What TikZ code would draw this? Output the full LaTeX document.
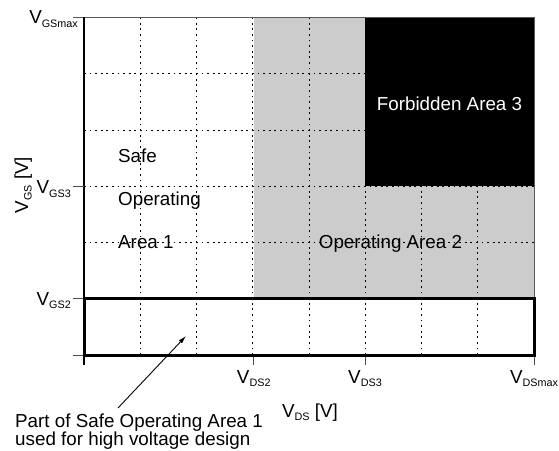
\documentclass[tikz,border=0pt]{standalone}
\usepackage{fontspec}
\setmainfont{Liberation Sans}
\usetikzlibrary{arrows.meta}
\newcommand{\volt}[1]{V\raisebox{-3.5pt}{\fontsize{10.8}{11}\selectfont #1}}

\begin{document}
\begin{tikzpicture}[x=1pt,y=1pt,
  gridline/.style={line width=0.9pt, dash pattern=on 1.8pt off 3.8pt},
  txt/.style={font=\fontsize{18.8}{16}\selectfont, inner sep=0pt},
  tickmark/.style={line width=1pt, gray!60!black}]
\useasboundingbox (0,0) rectangle (559,450);
% operating area 2
\fill[gray!40] (253.75,151.25) rectangle (534,432.5);
% dotted grid
\foreach \i in {1,...,7}
  \draw[gridline] (84+56.25*\i,95) -- (84+56.25*\i,432.5);
\foreach \j in {2,...,5}
  \draw[gridline] (84,95+56.25*\j) -- (534,95+56.25*\j);
% forbidden area 3
\fill[black] (365,263.75) rectangle (534,432.5);
% frame and ticks
\draw[line width=0.8pt, gray!70!black] (73,432.5) -- (534,432.5) -- (534,95);
\draw[line width=1.2pt] (84,432.5) -- (84,85);
\draw[tickmark] (73,263.75) -- (84,263.75);
\draw[tickmark] (73,151.25) -- (84,151.25);
\draw[tickmark] (73,95) -- (84,95);
\draw[tickmark] (253.75,95) -- (253.75,85);
\draw[tickmark] (365,95) -- (365,85);
\draw[tickmark] (534,95) -- (534,85);
% high voltage part
\draw[line width=3pt] (84,95) rectangle (534,151.25);
% tick labels
\node[txt, anchor=base east] (gsmax) at (78,426) {\volt{GSmax}};
\node[txt, anchor=base east] (gs3) at (71,256) {\volt{GS3}};
\node[txt, anchor=base east] (gs2) at (71,145) {\volt{GS2}};
\node[txt, anchor=base] (ds2) at (253.75,67) {\volt{DS2}};
\node[txt, anchor=base] (ds3) at (365,67) {\volt{DS3}};
\node[txt, anchor=base] (dsmax) at (534,67) {\volt{DSmax}};
% axis labels
\node[txt, anchor=base] (xlabel) at (310,33) {\volt{DS} [V]};
\node[txt, anchor=base, rotate=90] (ylabel) at (28,265) {\volt{GS} [V]};
% areas
\node[txt, anchor=base west] (safe) at (118,287) {Safe};
\node[txt, anchor=base west] (oper) at (118,244) {Operating};
\node[txt, anchor=base west] (area1) at (118,201) {Area 1};
\node[txt, anchor=base] (area2) at (390.5,201) {Operating Area 2};
\node[txt, anchor=base, white] (area3) at (449.5,339) {Forbidden Area 3};
% note
\node[txt, anchor=south west, align=left] (note) at (15,0)
  {Part of Safe Operating Area 1\\used for high voltage design};
\coordinate (tail) at (118,42);
\coordinate (tip) at (186,114);
\draw[line width=0.9pt, -{Latex[length=8pt,width=4.5pt]}] (tail) -- (tip);
\end{tikzpicture}
\end{document}
